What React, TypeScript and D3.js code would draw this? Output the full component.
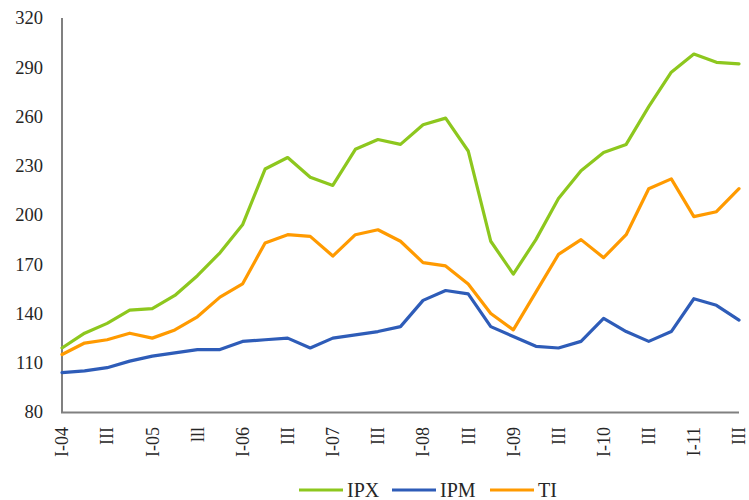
import React from "react";
import * as d3 from "d3";

const quarters = [
  "I-04","II-04","III-04","IV-04","I-05","II-05","III-05","IV-05",
  "I-06","II-06","III-06","IV-06","I-07","II-07","III-07","IV-07",
  "I-08","II-08","III-08","IV-08","I-09","II-09","III-09","IV-09",
  "I-10","II-10","III-10","IV-10","I-11","II-11","III-11",
];
const tickLabels = ["I-04","III","I-05","lll","I-06","III","I-07","III","I-08","III","I-09","III","I-10","III","I-11","III"];

const ipx = [119,128,134,142,143,151,163,177,194,228,235,223,218,240,246,243,255,259,239,184,164,185,210,227,238,243,266,287,298,293,292];
const ipm = [104,105,107,111,114,116,118,118,123,124,125,119,125,127,129,132,148,154,152,132,126,120,119,123,137,129,123,129,149,145,136];
const ti = [115,122,124,128,125,130,138,150,158,183,188,187,175,188,191,184,171,169,158,140,130,153,176,185,174,188,216,222,199,202,216];

const yTicks = [80,110,140,170,200,230,260,290,320];

const seriesNames = ["IPX","IPM","TI"];
const seriesColors = ["#8DC71E","#2E5CB8","#FF9A00"];

export default function App() {
  const W = 749, H = 500;
  const x = d3.scalePoint<string>().domain(quarters).range([62, 739]);
  const y = d3.scaleLinear().domain([80, 320]).range([412, 18]);
  const line = d3.line<number>().x((_, i) => x(quarters[i])!).y(d => y(d));
  const all = [ipx, ipm, ti];
  const txt: React.CSSProperties = { fontFamily: "'Liberation Serif', 'DejaVu Serif', serif" };
  const legendX = [299, 392, 490];
  return (
    <svg width={W} height={H} style={{ position: "absolute", left: 0, top: 0, background: "#fff" }}>
      {yTicks.map(t => (
        <text key={t} x={43} y={y(t)} dy="0.35em" textAnchor="end" fontSize={18.5} fill="#262626" style={txt}>{t}</text>
      ))}
      <line x1={62} x2={62} y1={18} y2={413} stroke="#808080" strokeWidth={2} />
      <line x1={61} x2={739} y1={412.5} y2={412.5} stroke="#808080" strokeWidth={2} />
      {tickLabels.map((l, k) => {
        const px = x(quarters[k * 2])!;
        return (
          <text key={k} transform={`translate(${px},427) rotate(-90)`} textAnchor="end" dy="0.35em" fontSize={18} fill="#262626" style={txt}>{l}</text>
        );
      })}
      {all.map((s, i) => (
        <path key={i} d={line(s) || ""} fill="none" stroke={seriesColors[i]} strokeWidth={3.2} strokeLinejoin="round" strokeLinecap="round" />
      ))}
      {seriesNames.map((n, i) => (
        <g key={n}>
          <line x1={legendX[i]} x2={legendX[i] + 44} y1={490} y2={490} stroke={seriesColors[i]} strokeWidth={3.2} />
          <text x={legendX[i] + 48} y={490} dy="0.35em" fontSize={20} fill="#262626" style={txt}>{n}</text>
        </g>
      ))}
    </svg>
  );
}
